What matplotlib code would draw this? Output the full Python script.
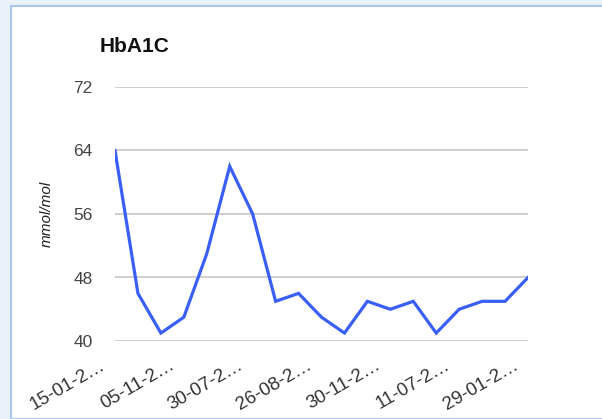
import matplotlib
matplotlib.use("Agg")
import matplotlib.pyplot as plt
from matplotlib.patches import Rectangle

plt.rcParams['font.family'] = ['Liberation Sans', 'DejaVu Sans']

# HbA1C readings (mmol/mol), one per visit
values = [64, 46, 41, 43, 51, 62, 56, 45, 46, 43, 41, 45, 44, 45, 41, 44, 45, 45, 48]
tick_pos = [0, 3, 6, 9, 12, 15, 18]
tick_labels = ["15-01-2\u2026", "05-11-2\u2026", "30-07-2\u2026", "26-08-2\u2026",
               "30-11-2\u2026", "11-07-2\u2026", "29-01-2\u2026"]
y_ticks = [40, 48, 56, 64, 72]

W, H = 602, 419
fig = plt.figure(figsize=(W / 100, H / 100), dpi=100)
fig.patch.set_facecolor('#eaf1fb')

# white panel with light blue frame, kept behind the axes
fig.add_artist(Rectangle((11 / W, 0), 1, 1 - 6 / H, transform=fig.transFigure,
                         facecolor='white', edgecolor='#a9c7ee', linewidth=1.5,
                         zorder=-5))

ax = fig.add_axes([115 / W, 1 - 341 / H, (528 - 115) / W, (341 - 87) / H])
ax.set_zorder(1)
ax.set_facecolor('none')
x = list(range(len(values)))
ax.plot(x, values, color='#3a5ff7', linewidth=2.3, solid_joinstyle='miter', zorder=3)

ax.set_xlim(0, len(values) - 1)
ax.set_ylim(40, 72)
ax.set_yticks(y_ticks)
ax.set_yticklabels([str(v) for v in y_ticks], fontsize=12.5, color='#444444')
ax.set_xticks(tick_pos)
ax.set_xticklabels([])
# slanted date labels, placed left/below each tick like the original
for pos, lab in zip(tick_pos, tick_labels):
    ax.annotate(lab, xy=(pos, 0), xycoords=('data', 'axes fraction'),
                xytext=(-11, -11.5), textcoords='offset points',
                rotation=30, rotation_mode='anchor', ha='right', va='top',
                fontsize=13.5, color='#333333', annotation_clip=False)
ax.tick_params(axis='y', length=0, pad=16)
ax.tick_params(axis='x', length=0)
ax.grid(axis='y', color='#cccccc', linewidth=1.3)
ax.set_axisbelow(True)
for s in ax.spines.values():
    s.set_visible(False)

ax.set_ylabel('mmol/mol', fontsize=11, style='italic', color='#222222', labelpad=14)
fig.text(100 / W, 1 - 46 / H, 'HbA1C', fontsize=15, fontweight='bold',
         color='#111111', va='center', ha='left')

fig.savefig('out.png', dpi=100, facecolor=fig.get_facecolor())
